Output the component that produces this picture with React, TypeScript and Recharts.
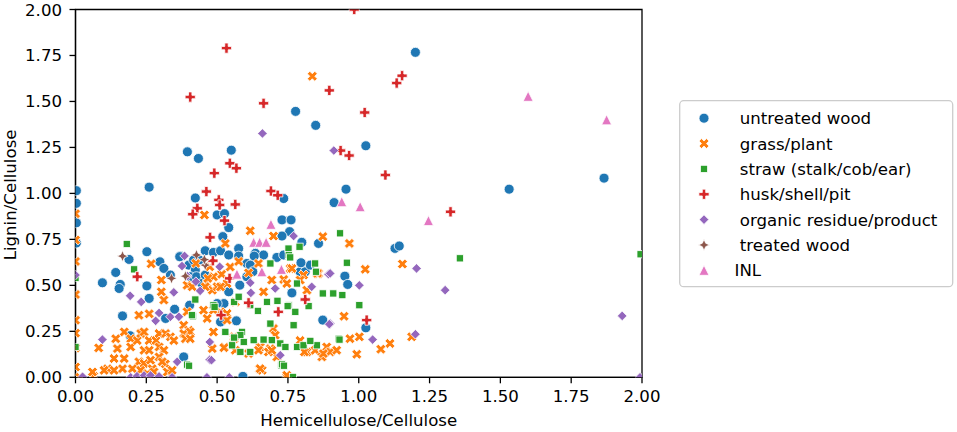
import React from 'react';
import { ScatterChart, Scatter, XAxis, YAxis, ReferenceArea } from 'recharts';

const xTicks = [0, 0.25, 0.5, 0.75, 1, 1.25, 1.5, 1.75, 2];
const yTicks = [0, 0.25, 0.5, 0.75, 1, 1.25, 1.5, 1.75, 2];

const untreatedWood: number[][] = [
  [0.003, 1.015], [0.003, 0.946], [0.003, 0.84], [0.003, 0.73],
  [0.26, 1.034], [0.395, 1.226], [0.434, 1.19], [0.55, 1.235], [0.777, 1.446], [0.848, 1.37], [1.025, 1.259],
  [1.2, 1.767], [1.531, 1.023], [1.866, 1.083],
  [0.423, 0.975], [0.735, 0.972], [0.913, 0.95], [0.955, 1.023],
  [0.5, 0.883], [0.526, 0.89], [0.541, 0.814], [0.729, 0.856], [0.761, 0.856], [0.756, 0.792],
  [0.52, 0.765], [0.729, 0.768], [0.799, 0.734], [0.576, 0.70], [0.858, 0.728], [1.128, 0.701], [1.143, 0.714],
  [0.37, 0.659], [0.458, 0.688], [0.487, 0.679], [0.512, 0.688], [0.541, 0.665], [0.576, 0.659], [0.635, 0.674],
  [0.664, 0.665], [0.605, 0.619], [0.711, 0.652], [0.735, 0.665], [0.631, 0.659],
  [0.189, 0.641], [0.252, 0.683], [0.298, 0.628], [0.312, 0.592], [0.335, 0.556], [0.368, 0.656],
  [0.4, 0.61], [0.417, 0.637], [0.438, 0.637], [0.423, 0.583], [0.405, 0.547], [0.427, 0.547], [0.446, 0.51], [0.458, 0.556],
  [0.095, 0.514], [0.142, 0.57], [0.158, 0.505], [0.154, 0.483], [0.252, 0.497], [0.26, 0.429], [0.166, 0.334], [0.193, 0.226],
  [0.318, 0.32], [0.35, 0.37], [0.403, 0.392], [0.382, 0.111], [0.591, 0.005],
  [0.58, 0.501], [0.541, 0.465], [0.524, 0.401], [0.5, 0.401], [0.568, 0.307], [0.512, 0.301], [0.617, 0.61],
  [0.605, 0.547], [0.626, 0.574], [0.764, 0.459], [0.793, 0.574], [0.811, 0.574], [0.829, 0.61], [0.873, 0.311],
  [0.796, 0.623], [0.951, 0.55], [0.961, 0.505], [1.025, 0.269],
];

const grassPlant: number[][] = [
  [0.836, 1.637], [0.455, 0.883], [0.617, 0.797], [0.699, 0.768], [0.529, 0.728], [0.873, 0.765], [0.967, 0.728],
  [0, 0.89], [0, 0.747], [0, 0.63], [0, 0.45], [0, 0.31], [0, 0.24], [0, 0.16], [0, 0.056],
  [0.267, 0.617], [0.303, 0.529], [0.303, 0.465], [0.312, 0.42], [0.224, 0.338], [0.26, 0.345],
  [0.394, 0.356], [0.382, 0.283], [0.4, 0.256],
  [0.394, 0.501], [0.412, 0.492], [0.465, 0.51], [0.483, 0.474], [0.5, 0.492], [0.452, 0.365], [0.487, 0.365],
  [0.512, 0.356], [0.535, 0.347], [0.564, 0.41],
  [0.526, 0.165], [0.56, 0.22], [0.564, 0.147], [0.611, 0.129], [0.65, 0.047], [0.652, 0.165], [0.688, 0.156], [0.711, 0.111],
  [0.659, 0.038], [0.746, 0.0], [0.317, 0.073], [0.064, 0.006], [0.015, 0.0],
  [0.172, 0.247], [0.195, 0.21], [0.195, 0.165], [0.218, 0.2], [0.23, 0.238], [0.242, 0.247], [0.26, 0.2], [0.284, 0.2],
  [0.295, 0.238], [0.295, 0.165], [0.318, 0.238], [0.335, 0.22], [0.312, 0.147], [0.347, 0.2], [0.382, 0.238], [0.388, 0.21],
  [0.405, 0.247], [0.405, 0.21], [0.242, 0.147], [0.26, 0.147], [0.224, 0.084], [0.242, 0.075], [0.265, 0.093], [0.271, 0.047],
  [0.295, 0.111], [0.306, 0.084], [0.324, 0.029], [0.341, 0.038], [0.136, 0.102], [0.172, 0.102], [0.166, 0.047], [0.113, 0.047],
  [0.101, 0.038], [0.06, 0.029], [0.136, 0.038], [0.201, 0.047], [0.23, 0.038], [0.254, 0.02], [0.277, 0.029],
  [0.082, 0.16], [0.142, 0.21], [0.148, 0.156],
  [0.646, 0.619], [0.611, 0.568], [0.664, 0.465], [0.693, 0.529], [0.735, 0.532], [0.758, 0.592], [0.817, 0.474], [0.858, 0.565],
  [0.805, 0.556], [0.487, 0.247], [0.56, 0.21], [0.483, 0.156], [0.524, 0.161], [0.699, 0.265], [0.705, 0.229], [0.646, 0.147],
  [0.681, 0.138], [0.652, 0.047], [0.693, 0.147], [0.793, 0.2], [0.817, 0.138], [0.846, 0.147], [0.887, 0.165], [0.899, 0.138],
  [0.922, 0.147], [0.87, 0.111], [0.474, 0.601], [0.487, 0.547], [0.467, 0.538], [0.535, 0.51], [0.512, 0.492], [0.458, 0.492],
  [0.535, 0.311], [0.465, 0.32],
  [1.023, 0.587], [1.154, 0.616], [0.854, 0.565], [0.793, 0.529], [0.764, 0.592], [0.746, 0.51], [0.948, 0.332], [0.969, 0.21],
  [1.002, 0.22], [1.11, 0.184], [1.078, 0.153], [1.187, 0.22], [0.993, 0.125], [0.875, 0.129], [0.808, 0.138], [0.746, 0.011],
  [0.425, 0.62], [0.546, 0.6], [0.576, 0.63], [0.516, 0.56],
];

const straw: number[][] = [
  [0.181, 0.725], [0.207, 0.587], [0, 0.54], [0, 0.165], [0.752, 0.70], [0.791, 0.71], [0.753, 0.665], [0.846, 0.619],
  [0.849, 0.574], [0.782, 0.51], [0.873, 0.456], [0.91, 0.456], [0.713, 0.416], [0.753, 0.392], [0.676, 0.41], [0.617, 0.392],
  [0.644, 0.361], [0.487, 0.392], [0.56, 0.41], [0.576, 0.438], [0.776, 0.356], [0.77, 0.283], [0.688, 0.292], [0.588, 0.247],
  [0.582, 0.229], [0.56, 0.216], [0.594, 0.192], [0.629, 0.202], [0.664, 0.205], [0.693, 0.202], [0.723, 0.184], [0.741, 0.165],
  [0.782, 0.165], [0.805, 0.174], [0.852, 0.174], [0.829, 0.198], [0.582, 0.138], [0.617, 0.138], [0.553, 0.174], [0.726, 0.065],
  [0.929, 0.21], [0.934, 0.783], [0.758, 0.652], [0.958, 0.623], [0.942, 0.447], [0.749, 0.387], [0.823, 0.387], [1.002, 0.392],
  [0.932, 0.205], [0.729, 0.071], [0.768, 0.002], [1.357, 0.647], [1.995, 0.669], [0.415, 0.332], [0.423, 0.423], [0.491, 0.383],
  [0.394, 0.069], [0.401, 0.063], [0.736, 0.063], [0.688, 0.619], [0.411, 0.338], [0.529, 0.247],
];

const huskShellPit: number[][] = [
  [0.533, 1.79], [1.134, 1.60], [1.153, 1.64], [0.405, 1.524], [0.664, 1.49], [0.896, 1.56], [1.021, 1.44], [0.936, 1.233],
  [0.966, 1.206], [1.094, 1.10], [0.49, 1.11], [0.545, 1.164], [0.568, 1.137], [0.462, 1.01], [0.506, 0.965], [0.509, 0.937],
  [0.69, 1.013], [0.714, 0.99], [0.564, 0.94], [0.43, 0.919], [0.414, 0.887], [0.526, 0.852], [0.475, 0.761], [1.324, 0.90],
  [0.218, 0.547], [0.485, 0.634], [0.544, 0.538], [0.611, 0.405], [0.716, 0.356], [0.514, 0.338], [0.811, 0.423], [1.028, 0.311],
  [0.984, 2.0],
];

const organicResidue: number[][] = [
  [0.66, 1.326], [0.912, 1.233], [0.77, 0.768], [0.376, 0.605], [0.509, 0.601], [0.193, 0.443], [0.232, 0.41], [0.347, 0.462],
  [0.295, 0.35], [0.283, 0.307], [0.335, 0.329], [0.365, 0.329], [0.095, 0.205], [0.359, 0.084], [0.474, 0.096], [0.723, 0.12],
  [0.195, 0.0], [0.217, 0.006], [0.242, 0.01], [0.265, 0.01], [0.295, 0.005], [0.025, 0.003], [0.341, 0], [0.464, 0], [0.543, 0],
  [0.617, 0.514], [0.619, 0.459], [0.705, 0.483], [0.834, 0.492], [0.893, 0.561], [0.899, 0.292], [0.474, 0.192], [1.204, 0.592],
  [1.305, 0.474], [0.899, 0.565], [1.002, 0.50], [0.896, 0.289], [1.049, 0.205], [1.2, 0.234], [1.93, 0.334], [1.993, 0.0],
  [0.395, 0.55], [0.425, 0.52], [0.44, 0.47], [0.385, 0.66], [0.0, 0.556], [0.48, 0.093],
];

const treatedWood: number[][] = [
  [0.166, 0.659], [0.339, 0.538], [0.388, 0.55], [0.427, 0.665], [0.458, 0.61], [0.455, 0.64],
];

const inl: number[][] = [
  [1.598, 1.528], [1.875, 1.40], [0.94, 0.955], [1.005, 0.928], [1.246, 0.852], [0.69, 0.832], [0.629, 0.734],
  [0.65, 0.734], [0.673, 0.734], [0.57, 0.561], [0.658, 0.574], [0.727, 0.587],
];

const seriesNames = [
  'untreated wood', 'grass/plant', 'straw (stalk/cob/ear)', 'husk/shell/pit',
  'organic residue/product', 'treated wood', 'INL',
];
const seriesColors = ['#1f77b4', '#ff7f0e', '#2ca02c', '#d62728', '#9467bd', '#8c564b', '#e377c2'];

const FONT = 'DejaVu Sans';
const FS = 16.6;

const toPts = (arr: number[][]) => arr.map(([x, y]) => ({ x, y }));

const poly = (pts: number[][], s: number, cx: number, cy: number) =>
  'M' + pts.map(([a, b]) => `${cx + a * s},${cy + b * s}`).join('L') + 'Z';

const X_PTS = [[-1, -2], [0, -1], [1, -2], [2, -1], [1, 0], [2, 1], [1, 2], [0, 1], [-1, 2], [-2, 1], [-1, 0], [-2, -1]];
const P_PTS = [[-1, -3], [1, -3], [1, -1], [3, -1], [3, 1], [1, 1], [1, 3], [-1, 3], [-1, 1], [-3, 1], [-3, -1], [-1, -1]];

function Marker({ kind, cx, cy, color }: { kind: number; cx: number; cy: number; color: string }) {
  const common = { fill: color, stroke: '#fff', strokeWidth: 0.8 };
  if (cx == null || cy == null) return null;
  switch (kind) {
    case 0:
      return <circle cx={cx} cy={cy} r={5} {...common} />;
    case 1:
      return <path d={poly(X_PTS, 2.5, cx, cy)} {...common} />;
    case 2:
      return <rect x={cx - 3.6} y={cy - 3.6} width={7.2} height={7.2} {...common} />;
    case 3:
      return <path d={poly(P_PTS, 1.7, cx, cy)} {...common} />;
    case 4:
      return <path d={poly([[0, -1], [1, 0], [0, 1], [-1, 0]], 4.8, cx, cy)} {...common} />;
    case 5: {
      const o = 5.6, i = 2.4;
      const k = 0.7071;
      const pts = [[0, -o], [i * k, -i * k], [o, 0], [i * k, i * k], [0, o], [-i * k, i * k], [-o, 0], [-i * k, -i * k]];
      return <path d={poly(pts, 1, cx, cy)} {...common} />;
    }
    default:
      return <path d={poly([[0, -1], [1, 1], [-1, 1]], 5, cx, cy)} {...common} />;
  }
}

const makeShape = (kind: number) => (props: any) => (
  <Marker kind={kind} cx={props.cx} cy={props.cy} color={seriesColors[kind]} />
);

const allSeries = [untreatedWood, grassPlant, straw, huskShellPit, organicResidue, treatedWood, inl];

function LegendBox() {
  return (
    <svg
      width={275}
      height={188}
      style={{ position: 'absolute', left: 678.5, top: 99.5 }}
    >
      <rect x={0.7} y={0.7} width={273} height={186} rx={4} fill="#fff" stroke="#cccccc" strokeWidth={1.3} />
      {seriesNames.map((name, i) => {
        const cy = 18.2 + i * 25.35;
        return (
          <g key={name}>
            <Marker kind={i} cx={25} cy={cy} color={seriesColors[i]} />
            <text
              x={i === 6 ? 55.5 : 60.8}
              y={cy}
              dy="0.36em"
              fontFamily={FONT}
              fontSize={FS}
              fill="#000"
            >
              {name}
            </text>
          </g>
        );
      })}
    </svg>
  );
}

export default function App() {
  const tickStyle = { fill: '#000', fontSize: FS, fontFamily: FONT };
  return (
    <div style={{ position: 'absolute', left: 0, top: 0, width: 957, height: 432, background: '#fff' }}>
      <ScatterChart width={957} height={432} margin={{ top: 9.5, right: 315, bottom: 0, left: 0 }}>
        <XAxis
          type="number"
          dataKey="x"
          domain={[0, 2]}
          ticks={xTicks}
          allowDataOverflow
          height={54.7}
          tickFormatter={(v: number) => v.toFixed(2)}
          tick={tickStyle}
          tickSize={6}
          tickMargin={7}
          stroke="#000"
          axisLine={{ stroke: '#000', strokeWidth: 1.3 }}
          tickLine={{ stroke: '#000', strokeWidth: 1.3 }}
          label={(p: any) => {
            const vb = p.viewBox || {};
            return (
              <text
                x={vb.x + vb.width / 2}
                y={vb.y + 49}
                textAnchor="middle"
                fontFamily={FONT}
                fontSize={FS}
                fill="#000"
              >
                Hemicellulose/Cellulose
              </text>
            );
          }}
        />
        <YAxis
          type="number"
          dataKey="y"
          domain={[0, 2]}
          ticks={yTicks}
          allowDataOverflow
          width={75.5}
          tickFormatter={(v: number) => v.toFixed(2)}
          tick={tickStyle}
          tickSize={6}
          tickMargin={7.5}
          stroke="#000"
          axisLine={{ stroke: '#000', strokeWidth: 1.3 }}
          tickLine={{ stroke: '#000', strokeWidth: 1.3 }}
          label={(p: any) => {
            const vb = p.viewBox || {};
            const cx = vb.x + 16.5;
            const cy = vb.y + vb.height / 2 + 1.5;
            return (
              <text
                x={cx}
                y={cy}
                transform={`rotate(-90 ${cx} ${cy})`}
                textAnchor="middle"
                fontFamily={FONT}
                fontSize={FS}
                fill="#000"
              >
                Lignin/Cellulose
              </text>
            );
          }}
        />
        {allSeries.map((s, i) => (
          <Scatter
            key={seriesNames[i]}
            name={seriesNames[i]}
            data={toPts(s)}
            fill={seriesColors[i]}
            shape={makeShape(i)}
            isAnimationActive={false}
          />
        ))}
        <ReferenceArea x1={0} x2={2} y1={0} y2={2} fill="none" fillOpacity={0} stroke="#000" strokeWidth={1.3} />
      </ScatterChart>
      <LegendBox />
    </div>
  );
}
